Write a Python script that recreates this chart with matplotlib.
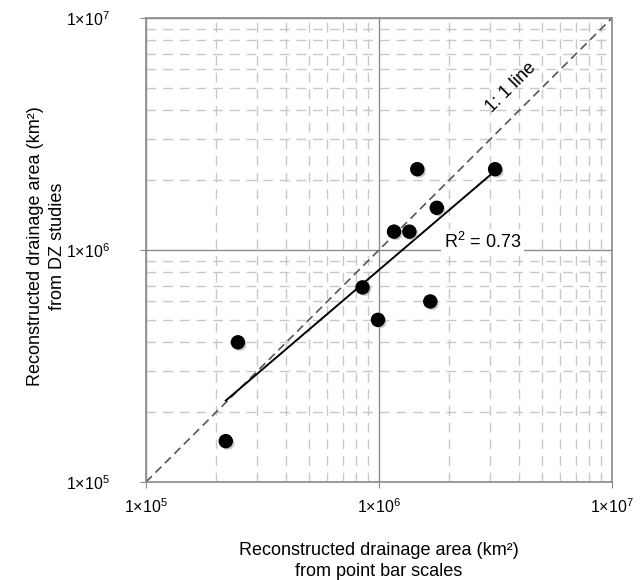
import matplotlib
matplotlib.use("Agg")
import matplotlib.pyplot as plt
import matplotlib.patheffects as pe
import numpy as np
from matplotlib.ticker import FixedLocator, LogLocator, NullFormatter

plt.rcParams['font.family'] = ['Liberation Sans', 'DejaVu Sans']
plt.rcParams['mathtext.fontset'] = 'custom'
plt.rcParams['mathtext.rm'] = 'Liberation Sans'
plt.rcParams['mathtext.it'] = 'Liberation Sans'

# drainage areas (km2)
point_bar = [2.2e5, 2.48e5, 8.5e5, 9.9e5, 1.66e6, 1.16e6, 1.35e6, 1.77e6, 1.46e6, 3.15e6]
dz_studies = [1.5e5, 4.0e5, 6.9e5, 5.0e5, 6.0e5, 1.2e6, 1.2e6, 1.52e6, 2.23e6, 2.23e6]
r_squared = 0.73
tick_values = [1e5, 1e6, 1e7]
tick_labels = ['1×10$^{5}$', '1×10$^{6}$', '1×10$^{7}$']

fig = plt.figure(figsize=(6.4, 5.8), dpi=100)
ax = fig.add_axes([146 / 640, 98 / 580, 466 / 640, 464 / 580])

ax.set_xscale('log')
ax.set_yscale('log')
ax.set_xlim(1e5, 1e7)
ax.set_ylim(1e5, 1e7)

ax.xaxis.set_major_locator(FixedLocator(tick_values))
ax.yaxis.set_major_locator(FixedLocator(tick_values))
ax.set_xticklabels(tick_labels)
ax.set_yticklabels(tick_labels)
for axis in (ax.xaxis, ax.yaxis):
    axis.set_minor_locator(LogLocator(base=10, subs=np.arange(2, 10)))
    axis.set_minor_formatter(NullFormatter())
ax.tick_params(which='major', direction='out', length=4, color='#888888',
               labelsize=11.5)
ax.tick_params(axis='x', which='major', pad=7)
ax.tick_params(axis='y', which='major', pad=22)
ax.tick_params(which='minor', length=0)

ax.grid(which='major', color='#8c8c8c', linewidth=1.0, linestyle='-')
ax.grid(which='minor', color='#c8c8c8', linewidth=1.0, linestyle=(0, (7, 5)))
ax.set_axisbelow(True)
for s in ax.spines.values():
    s.set_color('#8c8c8c')
    s.set_linewidth(1.2)

# 1:1 line
ax.plot([1e5, 1e7], [1e5, 1e7], color='#555555', linestyle=(0, (5, 3)), linewidth=1.2)
ax.text(3.7e6, 5.0e6, '1: 1 line', rotation=45, fontsize=13,
        ha='center', va='center')

# power-law fit in log space
lx = np.log10(point_bar)
ly = np.log10(dz_studies)
slope, icpt = np.polyfit(lx, ly, 1)
fx = np.array([min(point_bar), max(point_bar)])
fy = 10 ** (icpt + slope * np.log10(fx))
ax.plot(fx, fy, color='black', linewidth=1.4, zorder=3)

ax.scatter(point_bar, dz_studies, s=88, color='black', zorder=4,
           path_effects=[pe.SimplePatchShadow(offset=(1.5, -1.5), shadow_rgbFace='#999999', alpha=0.5),
                         pe.Normal()])

ax.text(1.9e6, 0.98e6, 'R$^{2}$ = %.2f' % r_squared,
        fontsize=13, ha='left', va='bottom',
        bbox=dict(facecolor='white', edgecolor='none', pad=2))

fig.text(379 / 640, 1 - 561 / 580,
         'Reconstructed drainage area (km²)\nfrom point bar scales',
         fontsize=13, ha='center', va='center', linespacing=1.25)
fig.text(46.5 / 640, 1 - 246 / 580,
         'Reconstructed drainage area (km²)\nfrom DZ studies',
         fontsize=13, ha='center', va='center', rotation=90, linespacing=1.35)

fig.savefig('out.png', dpi=100)
